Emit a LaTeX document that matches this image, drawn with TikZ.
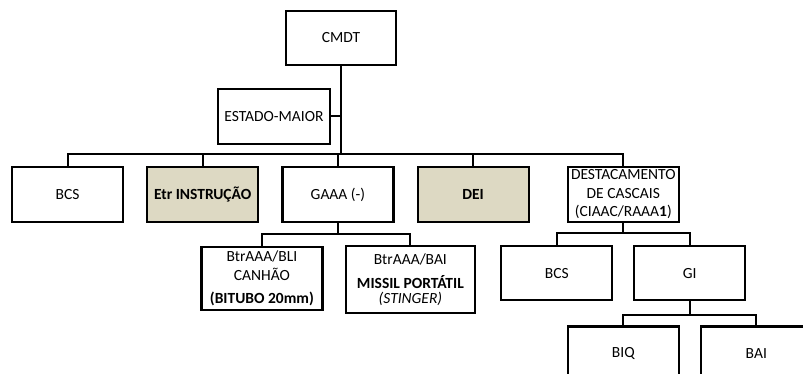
\documentclass[tikz,border=0pt]{standalone}
\usepackage{fontspec}
\setmainfont{Carlito}
\usepackage{tikz}
\usetikzlibrary{positioning}
\usepackage{xcolor}

\definecolor{tanfill}{HTML}{DDD9C3}

\begin{document}
\begin{tikzpicture}[
    x=1pt, y=-1pt,
    unit/.style={
        draw,
        line width=2.2pt,
        minimum width=111pt,
        minimum height=55pt,
        inner sep=1pt,
        align=center,
        font=\fontsize{15.5}{18.5}\selectfont
    },
    shaded/.style={
        unit,
        fill=tanfill
    },
    link/.style={
        line width=2pt
    }
]
\useasboundingbox (0,0) rectangle (803,374);

% Command and staff
\node[unit, minimum width=110pt, minimum height=54pt] (cmdt) at (341,38) {CMDT};
\node[unit, minimum width=112pt] (em) at (274,116.5) {ESTADO-MAIOR};

% First level
\node[unit] (bcs) at (67.5,194.5) {BCS};
\node[shaded, right=22pt of bcs] (etr) {\textbf{Etr INSTRUÇÃO}};
\node[unit, right=22pt of etr] (gaaa) {GAAA (-)};
\node[shaded, right=22pt of gaaa] (dei) {\textbf{DEI}};
\node[unit, right=37pt of dei] (dest)
{DESTACAMENTO\\DE CASCAIS\\(CIAAC/RAAA\textbf{1})};

% Under GAAA
\node[unit, minimum width=121pt, minimum height=63pt,
      below=23pt of gaaa, xshift=-76pt] (bli)
{BtrAAA/BLI\\CANHÃO\\[5pt]\textbf{(BITUBO 20mm)}};

\node[unit, minimum width=129pt, minimum height=67pt,
      below=22pt of gaaa, xshift=72.5pt] (bai)
{BtrAAA/BAI\\[5pt]\textbf{MISSIL PORTÁTIL}\\[-3pt]\textit{(STINGER)}};

% Under the detachment
\node[unit, minimum height=54pt, below=22pt of dest, xshift=-66.5pt] (bcsb) {BCS};
\node[unit, minimum height=54pt, below=22pt of dest, xshift=66.5pt] (gi) {GI};

\node[unit, minimum height=54pt, below=24pt of gi, xshift=-66.5pt] (biq) {BIQ};
\node[unit, minimum height=54pt, below=24pt of gi, xshift=66.5pt] (baib) {BAI};

% Connections
\draw[link] (em.east) -- (em.east -| cmdt.south);

\draw[link] (bcs.north) -- ++(0,-12) -| (cmdt.south);
\draw[link] (etr.north) -- ++(0,-12) -| (cmdt.south);
\draw[link] (gaaa.north) -- ++(0,-12) -| (cmdt.south);
\draw[link] (dei.north) -- ++(0,-12) -| (cmdt.south);
\draw[link] (dest.north) -- ++(0,-12) -| (cmdt.south);

\draw[link] (bli.north) -- ++(0,-12) -| (gaaa.south);
\draw[link] (bai.north) -- ++(0,-11) -| (gaaa.south);

\draw[link] (bcsb.north) -- ++(0,-12) -| (dest.south);
\draw[link] (gi.north) -- ++(0,-12) -| (dest.south);

\draw[link] (biq.north) -- ++(0,-10) -| (gi.south);
\draw[link] (baib.north) -- ++(0,-10) -| (gi.south);

\end{tikzpicture}
\end{document}
